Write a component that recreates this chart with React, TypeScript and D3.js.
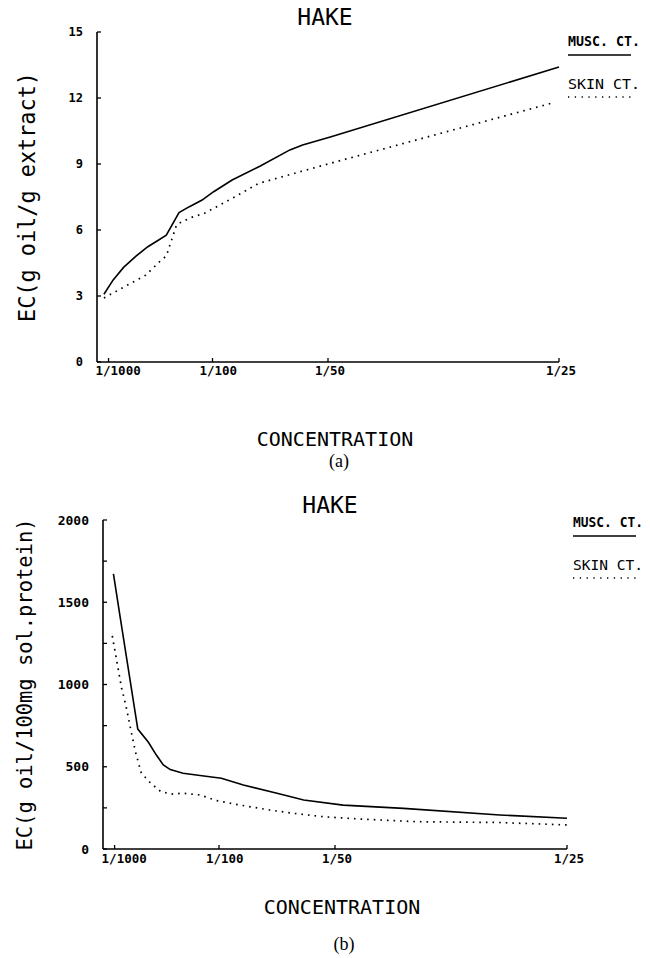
import React from "react";
import * as d3 from "d3";

// concentration axis (shared by both panels)
const concTicks = [0.001, 0.01, 0.02, 0.04];
const concLabels = ["1/1000", "1/100", "1/50", "1/25"];

// panel (a): EC in g oil / g extract
const aMuscConc = [0.0006, 0.0014, 0.0023, 0.0034, 0.0044, 0.0052, 0.006, 0.0071, 0.008, 0.0091, 0.0101, 0.0117, 0.0141, 0.0167, 0.0178, 0.0202, 0.04];
const aMuscEC = [3.08, 3.73, 4.3, 4.82, 5.24, 5.5, 5.77, 6.79, 7.06, 7.36, 7.74, 8.27, 8.9, 9.64, 9.86, 10.23, 13.41];
const aSkinConc = [0.0006, 0.003, 0.0042, 0.0055, 0.006, 0.0069, 0.0081, 0.0093, 0.0117, 0.014, 0.0176, 0.0202, 0.0394];
const aSkinEC = [2.91, 3.6, 3.94, 4.6, 4.82, 6.25, 6.56, 6.76, 7.44, 8.12, 8.65, 9.03, 11.77];
const aYTicks = [0, 3, 6, 9, 12, 15];

// panel (b): EC in g oil / 100mg soluble protein
const bMuscConc = [0.0009, 0.0015, 0.003, 0.0039, 0.0046, 0.0052, 0.0058, 0.0069, 0.0087, 0.0102, 0.0121, 0.015, 0.0173, 0.0207, 0.0259, 0.0342, 0.04];
const bMuscEC = [1672, 1400, 729, 650, 571, 511, 483, 460, 444, 430, 389, 339, 298, 267, 247, 207, 187];
const bSkinConc = [0.0008, 0.0016, 0.002, 0.0024, 0.0028, 0.0033, 0.0041, 0.005, 0.0059, 0.0069, 0.0084, 0.0098, 0.0118, 0.0144, 0.0164, 0.019, 0.0224, 0.0271, 0.0342, 0.04];
const bSkinEC = [1295, 979, 863, 723, 590, 462, 401, 348, 334, 339, 328, 294, 267, 237, 217, 196, 181, 166, 161, 146];
const bYTicks = [0, 250, 500, 750, 1000, 1250, 1500, 1750, 2000];
const bYLabels = [0, 500, 1000, 1500, 2000];

const legendNames = ["MUSC. CT.", "SKIN CT."];

const mono = "'DejaVu Sans Mono', monospace";

type PanelProps = {
  x0: number; x1: number; yBottom: number; yTop: number;
  yMax: number; yTicks: number[]; yLabels: number[];
  musc: [number[], number[]]; skin: [number[], number[]];
  yTitle: string; yTitleLen: number; yTitleSize: number; yTitleX: number;
  titleX: number; titleY: number;
  legendX: number; legendY: number; legendLen: number;
  conY: number; capY: number; capX: number; capText: string;
  tickLabelX: number; tickFont: number; xLabelY: number;
};

const Panel = (p: PanelProps) => {
  const x = d3.scaleLinear().domain([0, 0.04]).range([p.x0, p.x1]);
  const y = d3.scaleLinear().domain([0, p.yMax]).range([p.yBottom, p.yTop]);
  const line = d3.line<[number, number]>().x(d => x(d[0])).y(d => y(d[1]));
  const muscPts = p.musc[0].map((c, i) => [c, p.musc[1][i]] as [number, number]);
  const skinPts = p.skin[0].map((c, i) => [c, p.skin[1][i]] as [number, number]);
  const midY = (p.yBottom + p.yTop) / 2;
  const cx = (p.x0 + p.x1) / 2;

  return (
    <g>
      <text x={p.titleX} y={p.titleY} textAnchor="middle" fontFamily={mono} fontSize={23}>HAKE</text>

      {/* axes */}
      <line x1={p.x0} x2={p.x0} y1={p.yBottom} y2={p.yTop} stroke="#000" strokeWidth={1.6} />
      <line x1={p.x0} x2={p.x1} y1={p.yBottom} y2={p.yBottom} stroke="#000" strokeWidth={1.6} />
      {p.yTicks.map(t => (
        <line key={t} x1={p.x0} x2={p.x0 + 4} y1={y(t)} y2={y(t)} stroke="#000" strokeWidth={1.3} />
      ))}
      {p.yLabels.map(t => (
        <text key={t} x={p.tickLabelX} y={y(t)} dy="0.35em" textAnchor="end" fontFamily={mono}
          fontSize={p.tickFont} fontWeight="bold">{t}</text>
      ))}
      {concTicks.map((c, i) => (
        <g key={c}>
          <line x1={x(c)} x2={x(c)} y1={p.yBottom} y2={p.yBottom - 4} stroke="#000" strokeWidth={1.3} />
          <text x={x(c) - 13} y={p.xLabelY} fontFamily={mono} fontSize={12.5} fontWeight="bold">{concLabels[i]}</text>
        </g>
      ))}

      {/* series */}
      <path d={line(muscPts) || ""} fill="none" stroke="#000" strokeWidth={1.6} />
      <path d={line(skinPts) || ""} fill="none" stroke="#000" strokeWidth={1.7} strokeDasharray="1.6 5" />

      {/* legend */}
      <text x={p.legendX} y={p.legendY} fontFamily={mono} fontSize={13.5} fontWeight="bold"
        textLength={p.legendLen} lengthAdjust="spacingAndGlyphs">{legendNames[0]}</text>
      <line x1={p.legendX} x2={p.legendX + 63} y1={p.legendY + 9} y2={p.legendY + 9} stroke="#000" strokeWidth={1.5} />
      <text x={p.legendX} y={p.legendY + 43} fontFamily={mono} fontSize={14.5}
        textLength={p.legendLen} lengthAdjust="spacingAndGlyphs">{legendNames[1]}</text>
      <line x1={p.legendX} x2={p.legendX + 64} y1={p.legendY + 51} y2={p.legendY + 51} stroke="#000" strokeWidth={1.4} strokeDasharray="1.3 5.5" />

      {/* axis titles */}
      <text transform={`translate(${p.yTitleX},${midY}) rotate(-90)`} textAnchor="middle" fontFamily={mono}
        fontSize={p.yTitleSize} textLength={p.yTitleLen} lengthAdjust="spacingAndGlyphs">{p.yTitle}</text>
      <text x={cx + 7} y={p.conY} textAnchor="middle" fontFamily={mono} fontSize={20}>CONCENTRATION</text>
      <text x={p.capX} y={p.capY} textAnchor="middle" fontFamily="'Liberation Serif', serif" fontSize={18}>{p.capText}</text>
    </g>
  );
};

const App = () => {
  return (
    <svg width={650} height={958} style={{ position: "absolute", left: 0, top: 0, background: "#fff" }}>
      <rect width={650} height={958} fill="#fff" />
      <Panel x0={97} x1={559} yBottom={362} yTop={32} yMax={15} yTicks={aYTicks} yLabels={aYTicks}
        musc={[aMuscConc, aMuscEC]} skin={[aSkinConc, aSkinEC]}
        yTitle="EC(g oil/g extract)" yTitleLen={250} yTitleSize={23} yTitleX={35}
        titleX={325} titleY={25} legendX={568} legendY={46} legendLen={72}
        conY={446} capY={467} capX={339} capText="(a)"
        tickLabelX={83} tickFont={12} xLabelY={375} />
      <Panel x0={103} x1={567} yBottom={849} yTop={520} yMax={2000} yTicks={bYTicks} yLabels={bYLabels}
        musc={[bMuscConc, bMuscEC]} skin={[bSkinConc, bSkinEC]}
        yTitle="EC(g oil/100mg sol.protein)" yTitleLen={332} yTitleSize={21} yTitleX={32}
        titleX={330} titleY={513} legendX={573} legendY={527} legendLen={70}
        conY={914} capY={950} capX={344} capText="(b)"
        tickLabelX={89} tickFont={13} xLabelY={863} />
    </svg>
  );
};

export default App;
